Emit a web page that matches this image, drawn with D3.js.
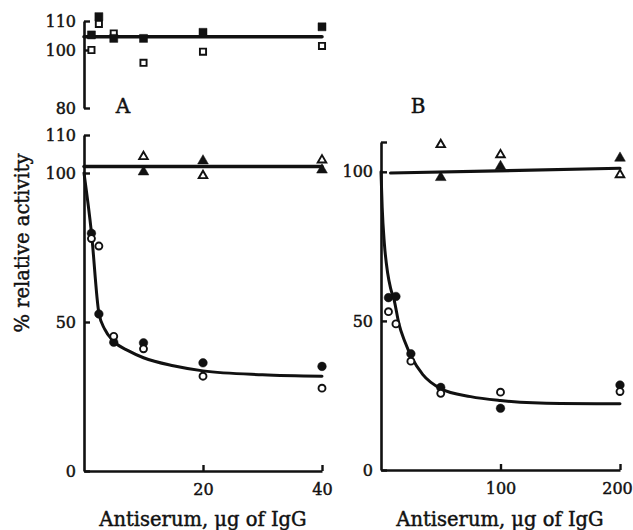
<!DOCTYPE html>
<html><head><meta charset="utf-8">
<script src="https://cdn.jsdelivr.net/npm/d3@7"></script>
<style>
body{margin:0;background:#fff}
svg{display:block}
text{font-family:"DejaVu Serif",serif;fill:#111;stroke:#111;stroke-width:0.45px}
</style>
</head><body>
<svg id="chart" width="633" height="530"></svg>
<script>
// ---------- data ----------
const dosesA = [1.25, 2.5, 5, 10, 20, 40];
const controlFilled = [105.2, 111.5, 104, 104, 106.1, 108];
const controlOpen   = [100, 109, 105.7, 95.6, 99.4, 101.4];
const controlLineX = [0, 40];
const controlLineY = [104.6, 104.6];

const aFilledCircles = [79.8, 52.7, 43.2, 43, 36.3, 35.1];
const aOpenCircles   = [78, 75.5, 45.2, 41, 31.8, 27.8];
const triDosesA = [10, 20, 40];
const aFilledTri = [100.3, 103.2, 100.8];
const aOpenTri   = [104.3, 99.1, 103.4];
const aLineX = [0, 40];
const aLineY = [101.7, 101.7];
const aCurveX = [0, 1.25, 2.5, 3.5, 5, 7.5, 10, 15, 20, 30, 40];
const aCurveY = [100, 80, 53, 47.5, 43.5, 40.3, 38, 35.3, 33.6, 32.3, 31.8];

const dosesB = [6.25, 12.5, 25, 50, 100, 200];
const bFilledCircles = [57.8, 58.2, 39, 27.7, 20.7, 28.5];
const bOpenCircles   = [53.1, 49, 36.5, 25.7, 26.1, 26.3];
const triDosesB = [50, 100, 200];
const bFilledTri = [98.1, 101.8, 104.6];
const bOpenTri   = [109.1, 105.7, 99];
const bLineX = [8, 200];
const bLineY = [99.6, 101.2];
const bCurveX = [0, 1, 2.8, 5.6, 8, 11, 15, 20, 26, 35, 50, 75, 100, 150, 200];
const bCurveY = [100, 88, 76, 66, 61, 57, 49, 43, 37.5, 32, 27.3, 24.6, 23.3, 22.3, 22.2];

const topTicks = [80, 100, 110];
const aYTicks = [0, 50, 100, 110];
const aXTicks = [20, 40];
const bYTicks = [0, 50, 100, 110];
const bXTicks = [100, 200];
const xTitle = "Antiserum, \u03bcg of IgG";
const yTitle = "% relative activity";

// ---------- scales ----------
const xA = d3.scaleLinear().domain([0, 40]).range([84, 322]);
const yTop = d3.scaleLinear().domain([80, 110]).range([108, 21]);
const yA = d3.scaleLinear().domain([0, 100, 110]).range([471, 173, 135]);
const xB = d3.scaleLinear().domain([0, 200]).range([381, 620]);
const yB = d3.scaleLinear().domain([0, 110]).range([470, 142]);

const svg = d3.select("#chart");
const ink = "#111";

function styleAxis(g, fs) {
  g.selectAll("path.domain").attr("stroke", ink).attr("stroke-width", 2.6);
  g.selectAll(".tick line").attr("stroke", ink).attr("stroke-width", 2.4);
  g.selectAll(".tick text").style("font-family", '"DejaVu Serif", serif')
    .style("font-size", fs + "px").attr("fill", ink);
}

// top panel y axis
svg.append("g").attr("transform", "translate(84,0)")
  .call(d3.axisLeft(yTop).tickValues(topTicks).tickSizeInner(-6).tickSizeOuter(0).tickPadding(8).tickFormat(d3.format("d")))
  .call(g => styleAxis(g, 16));

// panel A axes
svg.append("g").attr("transform", "translate(84,0)")
  .call(d3.axisLeft(yA).tickValues(aYTicks).tickSizeInner(-6).tickSizeOuter(0).tickPadding(8).tickFormat(d3.format("d")))
  .call(g => styleAxis(g, 16));
svg.append("g").attr("transform", "translate(0,471)")
  .call(d3.axisBottom(xA).tickValues(aXTicks).tickSizeInner(-6).tickSizeOuter(0).tickPadding(13).tickFormat(d3.format("d")))
  .call(g => styleAxis(g, 16));

// panel B axes
svg.append("g").attr("transform", "translate(381,0)")
  .call(d3.axisLeft(yB).tickValues(bYTicks).tickSizeInner(-6).tickSizeOuter(0).tickPadding(8).tickFormat(d => d === 110 ? "" : d3.format("d")(d)))
  .call(g => styleAxis(g, 16));
svg.append("g").attr("transform", "translate(0,470)")
  .call(d3.axisBottom(xB).tickValues(bXTicks).tickSizeInner(-6).tickSizeOuter(0).tickPadding(13).tickFormat(d3.format("d")))
  .call(g => styleAxis(g, 16))
  .call(g => g.selectAll(".tick text").filter(d => d === 200).attr("dx", -3));

// ---------- lines ----------
function drawLine(xs, ys, xsc, ysc, w, curve) {
  const pts = xs.map((x, i) => [x, ys[i]]);
  const gen = d3.line().x(d => xsc(d[0])).y(d => ysc(d[1])).curve(curve || d3.curveLinear);
  svg.append("path").attr("d", gen(pts)).attr("fill", "none")
    .attr("stroke", ink).attr("stroke-width", w).attr("stroke-linejoin", "round").attr("stroke-linecap", "round");
}
drawLine(controlLineX, controlLineY, xA, yTop, 3.5);
drawLine(aLineX, aLineY, xA, yA, 3.5);
drawLine(aCurveX, aCurveY, xA, yA, 3, d3.curveMonotoneX);
drawLine(bLineX, bLineY, xB, yB, 3.2);
drawLine(bCurveX, bCurveY, xB, yB, 3, d3.curveMonotoneX);

// ---------- markers ----------
function markers(xs, ys, xsc, ysc, type, filled) {
  const pts = xs.map((x, i) => [x, ys[i]]);
  const g = svg.append("g");
  const sel = g.selectAll("path").data(pts).join("path")
    .attr("transform", d => `translate(${xsc(d[0])},${ysc(d[1])})`);
  let sym, size;
  if (type === "circle") { sym = d3.symbolCircle; size = filled ? 58 : 38; }
  else if (type === "square") { sym = d3.symbolSquare; size = filled ? 64 : 38; }
  else { sym = d3.symbolTriangle; size = filled ? 50 : 32; }
  sel.attr("d", d3.symbol().type(sym).size(size))
    .attr("fill", filled ? ink : "#fff")
    .attr("stroke", ink)
    .attr("stroke-width", filled ? 0.5 : 1.9);
}
markers(dosesA, controlOpen, xA, yTop, "square", false);
markers(dosesA, controlFilled, xA, yTop, "square", true);
markers(triDosesA, aOpenTri, xA, yA, "tri", false);
markers(triDosesA, aFilledTri, xA, yA, "tri", true);
markers(dosesA, aFilledCircles, xA, yA, "circle", true);
markers(dosesA, aOpenCircles, xA, yA, "circle", false);
markers(triDosesB, bOpenTri, xB, yB, "tri", false);
markers(triDosesB, bFilledTri, xB, yB, "tri", true);
markers(dosesB, bFilledCircles, xB, yB, "circle", true);
markers(dosesB, bOpenCircles, xB, yB, "circle", false);

// ---------- texts ----------
svg.append("text").attr("x", 123).attr("y", 113).attr("text-anchor", "middle")
  .style("font-size", "20px").text("A");
svg.append("text").attr("x", 418).attr("y", 113).attr("text-anchor", "middle")
  .style("font-size", "20px").text("B");
svg.append("text").attr("x", 203).attr("y", 526).attr("text-anchor", "middle")
  .style("font-size", "19.5px").text(xTitle);
svg.append("text").attr("x", 500).attr("y", 526).attr("text-anchor", "middle")
  .style("font-size", "19.5px").text(xTitle);
svg.append("text").attr("transform", "translate(29,243) rotate(-90)").attr("text-anchor", "middle")
  .style("font-size", "19.5px").text(yTitle);
</script>
</body></html>
